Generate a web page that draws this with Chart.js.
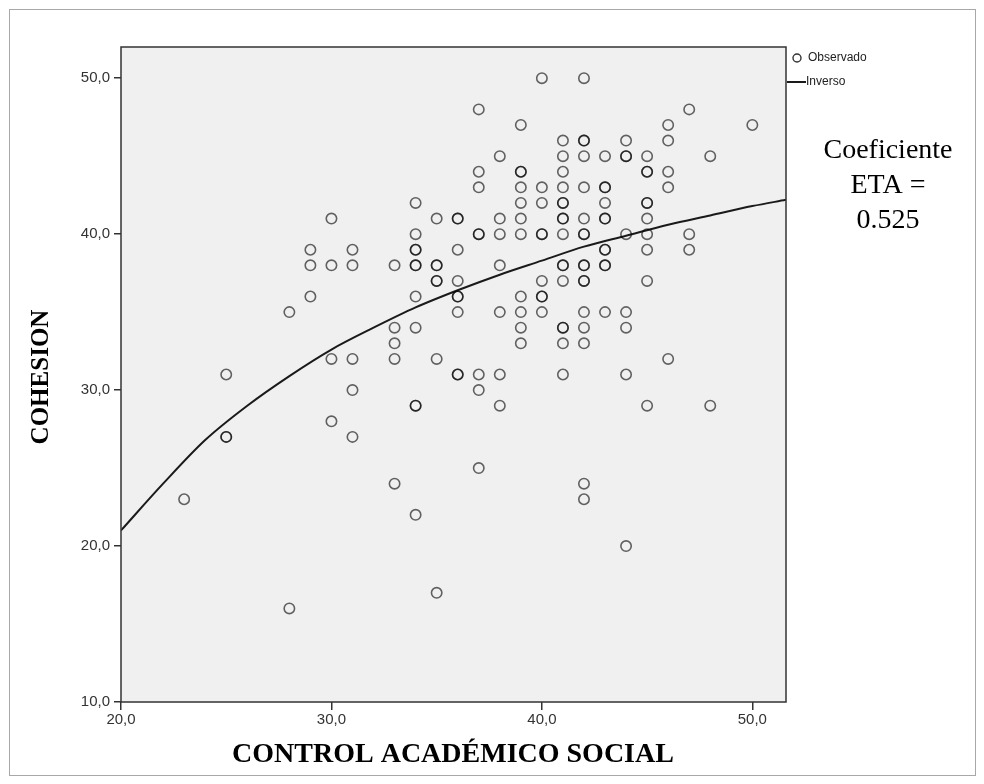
<!DOCTYPE html>
<html lang="es">
<head>
<meta charset="UTF-8">
<title>COHESION - CONTROL ACADÉMICO SOCIAL</title>
<script src="https://cdn.jsdelivr.net/npm/chart.js@4.4.1/dist/chart.umd.min.js"></script>
<style>
    body { margin: 0; background: #fff; }
    #frame { position: absolute; left: 9px; top: 9px; width: 965px; height: 765px; border: 1px solid #a8a8a8; }
    #chart { position: absolute; left: 0; top: 0; }
</style>
</head>
<body>
<div id="frame"></div>
<canvas id="chart" width="984" height="784"></canvas>
<script>
    // Observed cases, grouped by CONTROL ACADÉMICO SOCIAL value (repeated cases listed twice)
    const colX = [23, 25, 28, 29, 30, 31, 33, 34, 35, 36, 37, 38, 39, 40, 41, 42, 43, 44, 45, 46, 47, 48, 50];
    const colY = [
        [23],
        [31, 27, 27],
        [35, 16],
        [39, 38, 36],
        [41, 38, 32, 28],
        [39, 38, 32, 30, 27],
        [38, 34, 33, 32, 24],
        [42, 40, 39, 39, 38, 38, 36, 34, 29, 29, 22],
        [41, 38, 38, 37, 37, 32, 17],
        [41, 41, 39, 37, 36, 36, 35, 31, 31],
        [48, 44, 43, 40, 40, 31, 30, 25],
        [45, 41, 40, 38, 35, 31, 29],
        [47, 44, 44, 43, 42, 41, 40, 36, 35, 34, 33],
        [50, 43, 42, 40, 40, 37, 36, 36, 35],
        [46, 45, 44, 43, 42, 42, 41, 41, 40, 38, 38, 37, 34, 34, 33, 31],
        [50, 46, 46, 45, 43, 41, 40, 40, 38, 38, 37, 37, 35, 34, 33, 24, 23],
        [45, 43, 43, 42, 41, 41, 39, 39, 38, 38, 35],
        [46, 45, 45, 40, 35, 34, 31, 20],
        [45, 44, 44, 42, 42, 41, 40, 39, 37, 29],
        [47, 46, 44, 43, 32],
        [48, 40, 39],
        [45, 29],
        [47]
    ];

    // "Inverso" fitted curve
    const fitX = [20, 22, 24, 26, 28, 30, 32, 34, 36, 38, 40, 42, 44, 46, 48, 50, 51.6];
    const fitY = [21.0, 24.0, 26.8, 29.0, 30.9, 32.6, 34.0, 35.3, 36.4, 37.4, 38.3, 39.2, 39.9, 40.6, 41.2, 41.8, 42.2];

    const xTicks = [20, 30, 40, 50];
    const yTicks = [10, 20, 30, 40, 50];

    const xTitle = 'CONTROL ACADÉMICO SOCIAL';
    const yTitle = 'COHESION';
    const etaLines = ['Coeficiente', 'ETA =', '0.525'];

    const observed = [];
    colX.forEach((x, i) => colY[i].forEach(y => observed.push({ x: x, y: y })));
    const fitted = fitX.map((x, i) => ({ x: x, y: fitY[i] }));

    const fmt = v => v.toFixed(1).replace('.', ',');
    const axisColor = '#333';
    const sans = '"Liberation Sans", Arial, sans-serif';
    const serif = '"Liberation Serif", "Times New Roman", serif';

    const frame = {
        id: 'frame',
        beforeDraw(chart) {
            const a = chart.chartArea, ctx = chart.ctx;
            ctx.save();
            ctx.fillStyle = '#f0f0f0';
            ctx.fillRect(a.left, a.top, a.right - a.left, a.bottom - a.top);
            ctx.restore();
        },
        afterDraw(chart) {
            const a = chart.chartArea, ctx = chart.ctx;
            ctx.save();
            ctx.strokeStyle = axisColor;
            ctx.lineWidth = 1.5;
            ctx.strokeRect(a.left, a.top, a.right - a.left, a.bottom - a.top);

            // axis titles
            ctx.fillStyle = '#000';
            ctx.textAlign = 'center';
            ctx.textBaseline = 'middle';
            ctx.font = 'bold 28px ' + serif;
            ctx.fillText(xTitle, 453, 755);
            ctx.save();
            ctx.translate(42, 377);
            ctx.rotate(-Math.PI / 2);
            ctx.font = 'bold 25px ' + serif;
            ctx.fillText(yTitle, 0, 0);
            ctx.restore();

            // annotation
            ctx.font = '28px ' + serif;
            etaLines.forEach((t, i) => ctx.fillText(t, 888, 151 + i * 35));

            // legend
            const obs = chart.data.datasets[0], fit = chart.data.datasets[1];
            ctx.font = '12px ' + sans;
            ctx.textAlign = 'left';
            ctx.strokeStyle = '#333';
            ctx.lineWidth = 1.4;
            ctx.beginPath();
            ctx.arc(797, 58, 4, 0, Math.PI * 2);
            ctx.stroke();
            ctx.fillStyle = '#222';
            ctx.fillText(obs.label, 808, 58);
            ctx.strokeStyle = fit.borderColor;
            ctx.lineWidth = fit.borderWidth;
            ctx.beginPath();
            ctx.moveTo(787, 82);
            ctx.lineTo(806, 82);
            ctx.stroke();
            ctx.fillText(fit.label, 806, 82);
            ctx.restore();
        }
    };

    new Chart(document.getElementById('chart'), {
        type: 'scatter',
        data: {
            datasets: [{
                label: 'Observado',
                data: observed,
                pointStyle: 'circle',
                pointRadius: 5.2,
                pointHoverRadius: 5.2,
                borderWidth: 1.6,
                borderColor: 'rgba(0,0,0,0.6)',
                backgroundColor: 'rgba(0,0,0,0)'
            }, {
                label: 'Inverso',
                type: 'line',
                data: fitted,
                borderColor: '#1a1a1a',
                borderWidth: 2,
                pointRadius: 0,
                cubicInterpolationMode: 'monotone',
                fill: false
            }]
        },
        options: {
            responsive: false,
            animation: false,
            layout: { padding: { top: 47, right: 198, bottom: 0, left: 0 } },
            plugins: { legend: { display: false }, tooltip: { enabled: false } },
            scales: {
                x: {
                    type: 'linear',
                    min: 20,
                    max: 51.6,
                    afterFit: s => { s.height = 82; },
                    afterBuildTicks: s => { s.ticks = xTicks.map(v => ({ value: v })); },
                    border: { display: false },
                    grid: { drawOnChartArea: false, drawTicks: true, tickLength: 8, color: axisColor, lineWidth: 1.5 },
                    ticks: {
                        callback: v => fmt(v),
                        color: '#333',
                        padding: 1,
                        maxRotation: 0,
                        font: { family: sans, size: 15 }
                    }
                },
                y: {
                    type: 'linear',
                    min: 10,
                    max: 52,
                    afterFit: s => { s.width = 121; },
                    afterBuildTicks: s => { s.ticks = yTicks.map(v => ({ value: v })); },
                    border: { display: false },
                    grid: { drawOnChartArea: false, drawTicks: true, tickLength: 7, color: axisColor, lineWidth: 1.5 },
                    ticks: {
                        callback: v => fmt(v),
                        color: '#333',
                        padding: 4,
                        font: { family: sans, size: 15 }
                    }
                }
            }
        },
        plugins: [frame]
    });
</script>
</body>
</html>
